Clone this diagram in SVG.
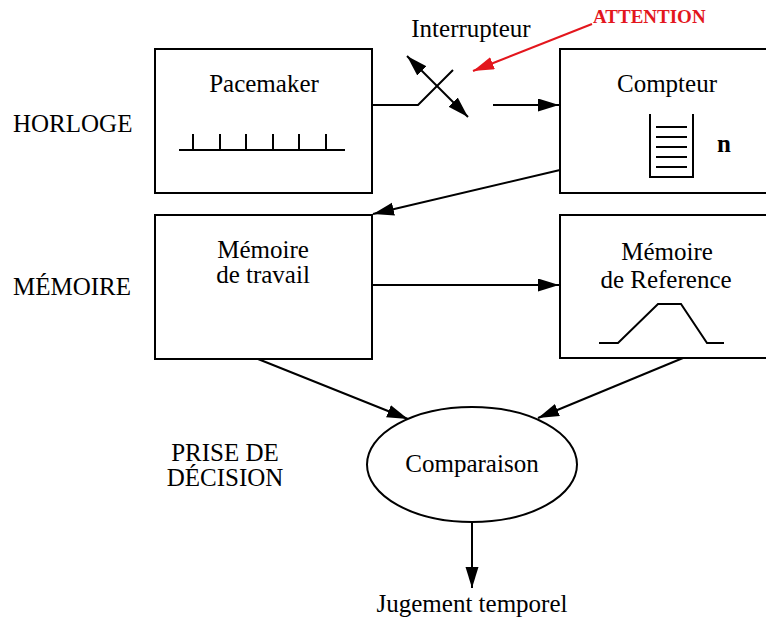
<svg xmlns="http://www.w3.org/2000/svg" width="766" height="620" viewBox="0 0 766 620">
<style>
text { font-family: "Liberation Serif", "Times New Roman", serif; font-size: 25px; fill: #000; }
.c { text-anchor: middle; }
.box { fill: #fff; stroke: #000; stroke-width: 2; }
.ln { fill: none; stroke: #000; stroke-width: 2; }
.arr { fill: none; stroke: #000; stroke-width: 2; marker-end: url(#ah); }
.red { fill: #e3161d; font-weight: bold; font-size: 19px; }
</style>
<defs>
<marker id="ah" markerUnits="userSpaceOnUse" markerWidth="22" markerHeight="14" refX="21" refY="6.5" orient="auto">
<path d="M0,0 L21,6.5 L0,13 z" fill="#000"/>
</marker>
<marker id="ahd" markerUnits="userSpaceOnUse" markerWidth="22" markerHeight="14" refX="21" refY="6.5" orient="auto-start-reverse">
<path d="M0,0 L21,6.5 L0,13 z" fill="#000"/>
</marker>
<marker id="ahr" markerUnits="userSpaceOnUse" markerWidth="22" markerHeight="14" refX="21" refY="6.5" orient="auto">
<path d="M0,0 L21,6.5 L0,13 z" fill="#e3161d"/>
</marker>
</defs>
<rect width="766" height="620" fill="#fff"/>
<g id="labels">
<text x="13" y="132">HORLOGE</text>
<text x="13" y="295">MÉMOIRE</text>
<text class="c" x="225" y="461" font-size="24">PRISE DE</text>
<text class="c" x="225" y="486" font-size="24">DÉCISION</text>
</g>
<g id="pacemaker">
<rect class="box" x="155" y="49" width="217" height="144"/>
<text class="c" x="264" y="92">Pacemaker</text>
<path class="ln" d="M179,150 H345 M193,150 V134 M220,150 V134 M246,150 V134 M273,150 V134 M299,150 V134 M326,150 V134"/>
</g>
<g id="compteur">
<rect class="box" x="560" y="49" width="230" height="144"/>
<text class="c" x="667" y="92">Compteur</text>
<path class="ln" d="M650,114 V177 H693 V114"/>
<path class="ln" d="M656,127 H687 M656,137 H687 M656,147 H687 M656,157 H687 M656,167 H687"/>
<text x="717" y="152" font-weight="bold">n</text>
</g>
<g id="memoire-travail">
<rect class="box" x="155" y="215" width="217" height="144"/>
<text class="c" x="263" y="258">Mémoire</text>
<text class="c" x="263" y="283">de travail</text>
</g>
<g id="memoire-reference">
<rect class="box" x="560" y="215" width="230" height="143"/>
<text class="c" x="667" y="260" font-size="23">Mémoire</text>
<text class="c" x="666" y="288" font-size="24">de Reference</text>
<polyline class="ln" points="599,343 618,343 658,304 681,304 707,343 724,343"/>
</g>
<g id="comparaison">
<ellipse class="box" cx="472" cy="464.5" rx="105" ry="57.5"/>
<text class="c" x="472" y="472">Comparaison</text>
</g>
<g id="jugement">
<text class="c" x="472" y="612">Jugement temporel</text>
</g>
<g id="interrupteur">
<text class="c" x="471" y="37">Interrupteur</text>
</g>
<g id="attention">
<text class="red" x="593" y="23">ATTENTION</text>
</g>
<g id="connectors">
<polyline class="ln" points="372,105 418,105 453,70"/>
<line class="ln" x1="407" y1="56" x2="468" y2="117" marker-start="url(#ahd)" marker-end="url(#ahd)"/>
<line class="arr" x1="493" y1="105" x2="559" y2="105"/>
<line class="arr" x1="560" y1="170" x2="373" y2="214"/>
<line class="arr" x1="372" y1="285" x2="559" y2="285"/>
<line class="arr" x1="258" y1="359" x2="408" y2="419"/>
<line class="arr" x1="683" y1="358" x2="538" y2="418"/>
<line class="arr" x1="472" y1="522" x2="472" y2="588"/>
<line x1="592" y1="24" x2="473" y2="71" stroke="#e3161d" stroke-width="2" marker-end="url(#ahr)"/>
</g>
</svg>
